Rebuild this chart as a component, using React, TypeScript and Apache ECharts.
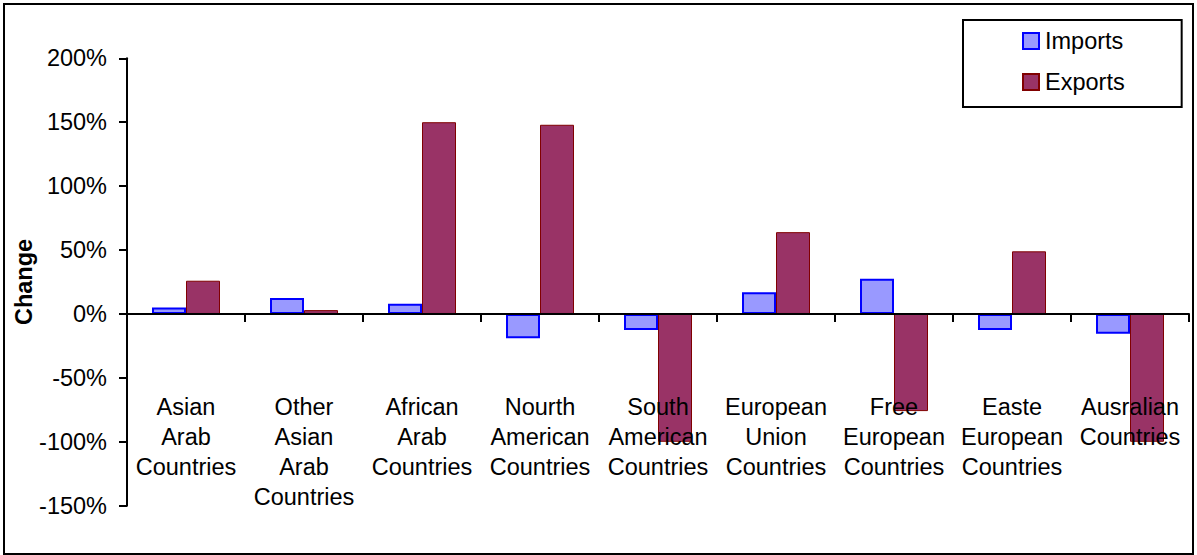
import React, { useEffect, useRef } from "react";
import * as echarts from "echarts";

const categories = [
  "Asian\nArab\nCountries",
  "Other\nAsian\nArab\nCountries",
  "African\nArab\nCountries",
  "Nourth\nAmerican\nCountries",
  "South\nAmerican\nCountries",
  "European\nUnion\nCountries",
  "Free\nEuropean\nCountries",
  "Easte\nEuropean\nCountries",
  "Ausralian\nCountries",
];
const imports = [5, 12.5, 8, -19, -12.5, 17, 27.5, -12.5, -15.5];
const exports = [26, 3, 150, 148, -100, 64, -76, 49, -100];
const yTicks = { min: -150, max: 200, interval: 50 };

const FONT = "'Liberation Sans', Arial, Helvetica, sans-serif";

export default function App() {
  const ref = useRef<HTMLDivElement>(null);
  useEffect(() => {
    document.body.style.margin = "0";
    const chart = echarts.init(ref.current!, null, { renderer: "svg" });
    chart.setOption({
      animation: false,
      backgroundColor: "#ffffff",
      textStyle: { fontFamily: FONT },
      grid: {
        left: 127,
        right: 8,
        top: 58.3,
        bottom: 49.3,
        containLabel: false,
        outerBoundsMode: "none",
      },
      graphic: [
        {
          type: "rect",
          shape: { x: 4, y: 4, width: 1189, height: 550 },
          style: { fill: "none", stroke: "#000", lineWidth: 2 },
          z: 0,
        },
      ],
      legend: {
        orient: "vertical",
        left: 963,
        top: 20,
        padding: [9, 57, 13, 59],
        borderColor: "#000",
        borderWidth: 2,
        itemWidth: 16,
        itemHeight: 16,
        itemGap: 17,
        icon: "rect",
        textStyle: { fontSize: 23.5, lineHeight: 24, color: "#000", fontFamily: FONT, padding: [0, 0, 0, 1] },
        data: ["Imports", "Exports"],
      },
      xAxis: {
        type: "category",
        data: categories,
        z: 10,
        axisLine: { onZero: true, lineStyle: { color: "#000", width: 2 } },
        axisTick: { show: true, length: 8, lineStyle: { color: "#000", width: 2 } },
        axisLabel: {
          interval: 0,
          margin: -114,
          color: "#000",
          fontSize: 23.5,
          lineHeight: 30,
          fontFamily: FONT,
          align: "center",
        },
        splitLine: { show: false },
      },
      yAxis: {
        type: "value",
        min: yTicks.min,
        max: yTicks.max,
        interval: yTicks.interval,
        name: "Change",
        nameLocation: "middle",
        nameRotate: 90,
        nameGap: 91,
        nameMoveOverlap: false,
        nameTextStyle: { fontSize: 23.5, fontWeight: "bold", color: "#000", fontFamily: FONT },
        axisLine: { show: true, lineStyle: { color: "#000", width: 2 } },
        axisTick: { show: true, length: 8, lineStyle: { color: "#000", width: 2 } },
        axisLabel: {
          margin: 20,
          color: "#000",
          fontSize: 23.5,
          fontFamily: FONT,
          formatter: (v: number) => `${v}%`,
        },
        splitLine: { show: false },
      },
      series: [
        {
          name: "Imports",
          type: "bar",
          data: imports,
          barWidth: 34,
          barGap: "0%",
          itemStyle: { color: "#9999FF", borderColor: "#0000FF", borderWidth: 2 },
        },
        {
          name: "Exports",
          type: "bar",
          data: exports,
          barWidth: 34,
          barGap: "0%",
          itemStyle: { color: "#993366", borderColor: "#800000", borderWidth: 1 },
        },
      ],
    });
    return () => chart.dispose();
  }, []);
  return <div ref={ref} style={{ width: 1197, height: 555 }} />;
}
